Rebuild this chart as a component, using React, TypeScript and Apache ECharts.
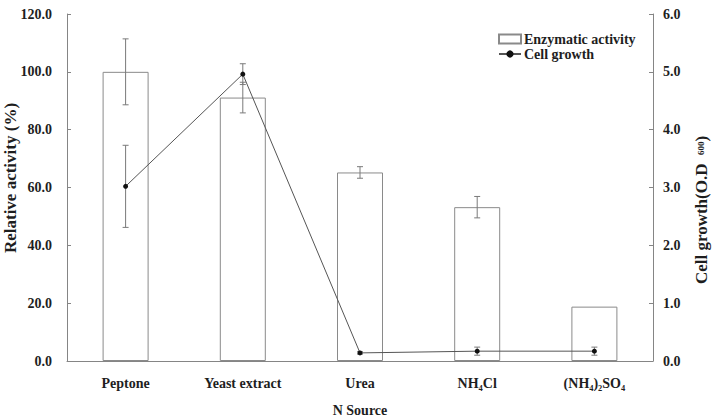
import React, { useEffect, useRef } from "react";
import * as echarts from "echarts";

const categories = ["Peptone", "Yeast extract", "Urea", "NH₄Cl", "(NH₄)₂SO₄"];
const activity = [100.0, 91.1, 65.2, 53.2, 18.8];
const activityErr = [11.4, 5.3, 2.0, 3.7, 0];
const growth = [3.02, 4.96, 0.14, 0.17, 0.17];
const growthErr = [0.71, 0.18, 0.02, 0.07, 0.07];
const leftTicks = [0, 20, 40, 60, 80, 100, 120];
const rightTicks = [0, 1, 2, 3, 4, 5, 6];

const FONT = "'Liberation Serif', 'Times New Roman', serif";
const AXIS_COLOR = "#858585";
const TEXT_COLOR = "#1e1e1e";

function errRender(color: string) {
  return (params: any, api: any) => {
    const x = api.value(0);
    if (api.value(1) === api.value(2)) return null;
    const lo = api.coord([x, api.value(1)]);
    const hi = api.coord([x, api.value(2)]);
    const w = 3;
    const style = { stroke: color, lineWidth: 1 };
    return {
      type: "group",
      children: [
        { type: "line", shape: { x1: lo[0], y1: lo[1], x2: hi[0], y2: hi[1] }, style },
        { type: "line", shape: { x1: lo[0] - w, y1: lo[1], x2: lo[0] + w, y2: lo[1] }, style },
        { type: "line", shape: { x1: hi[0] - w, y1: hi[1], x2: hi[0] + w, y2: hi[1] }, style },
      ],
    };
  };
}

export default function App() {
  const ref = useRef<HTMLDivElement>(null);
  useEffect(() => {
    if (!ref.current) return;
    const chart = echarts.init(ref.current, null, { renderer: "svg" });
    const actErrData = categories.map((_, i) => [i, activity[i] - activityErr[i], activity[i] + activityErr[i]]);
    const growthErrData = categories.map((_, i) => [i, growth[i] - growthErr[i], growth[i] + growthErr[i]]);
    chart.setOption({
      animation: false,
      backgroundColor: "#ffffff",
      textStyle: { fontFamily: FONT },
      grid: { left: 67, right: 59, top: 14, bottom: 55, containLabel: false, outerBoundsMode: "none" },
      legend: {
        orient: "vertical",
        left: 493,
        top: 27,
        itemWidth: 22,
        itemHeight: 9,
        itemGap: 1,
        textStyle: {
          fontFamily: FONT, fontSize: 14, fontWeight: "bold", color: TEXT_COLOR,
          lineHeight: 13, padding: [0, 0, 0, -2],
        },
        data: [
          { name: "Enzymatic activity", icon: "rect" },
          { name: "Cell growth" },
        ],
      },
      xAxis: {
        type: "category",
        data: categories,
        boundaryGap: true,
        name: "N Source",
        nameLocation: "middle",
        nameGap: 42,
        nameTextStyle: { fontFamily: FONT, fontSize: 14, fontWeight: "bold", color: TEXT_COLOR },
        axisLine: { lineStyle: { color: AXIS_COLOR, width: 1 } },
        axisTick: { inside: true, length: 4, lineStyle: { color: AXIS_COLOR } },
        axisLabel: { fontFamily: FONT, fontSize: 14, fontWeight: "bold", color: TEXT_COLOR, margin: 15 },
        splitLine: { show: false },
      },
      yAxis: [
        {
          type: "value",
          min: leftTicks[0],
          max: leftTicks[leftTicks.length - 1],
          interval: 20,
          axisLine: { show: true, lineStyle: { color: AXIS_COLOR, width: 1 } },
          axisTick: { show: true, inside: true, length: 4, lineStyle: { color: AXIS_COLOR } },
          axisLabel: {
            fontFamily: FONT, fontSize: 14, fontWeight: "bold", color: TEXT_COLOR, margin: 15,
            formatter: (v: number) => v.toFixed(1),
          },
          splitLine: { show: false },
        },
        {
          type: "value",
          min: rightTicks[0],
          max: rightTicks[rightTicks.length - 1],
          interval: 1,
          position: "right",
          axisLine: { show: true, lineStyle: { color: AXIS_COLOR, width: 1 } },
          axisTick: { show: true, inside: true, length: 4, lineStyle: { color: AXIS_COLOR } },
          axisLabel: {
            fontFamily: FONT, fontSize: 14, fontWeight: "bold", color: TEXT_COLOR, margin: 10,
            formatter: (v: number) => v.toFixed(1),
          },
          splitLine: { show: false },
        },
      ],
      graphic: [
        {
          type: "text",
          x: 10,
          y: 178,
          rotation: Math.PI / 2,
          style: {
            text: "Relative activity (%)",
            fontFamily: FONT, fontSize: 17, fontWeight: "bold", fill: TEXT_COLOR,
            align: "center", verticalAlign: "middle",
          },
        },
        {
          type: "text",
          x: 701,
          y: 210,
          rotation: Math.PI / 2,
          style: {
            text: "Cell growth(O.D  {s|600})",
            fontFamily: FONT, fontSize: 17, fontWeight: "bold", fill: TEXT_COLOR,
            align: "center", verticalAlign: "middle",
            rich: { s: { fontFamily: FONT, fontSize: 9, fontWeight: "bold", fill: TEXT_COLOR } },
          },
        },
      ],
      series: [
        {
          name: "Enzymatic activity",
          type: "bar",
          data: activity,
          yAxisIndex: 0,
          barWidth: 46,
          itemStyle: { color: "#ffffff", borderColor: "#8a8a8a", borderWidth: 1 },
          z: 2,
        },
        {
          name: "Activity error",
          type: "custom",
          yAxisIndex: 0,
          data: actErrData,
          encode: { x: 0, y: [1, 2] },
          renderItem: errRender("#7a7a7a"),
          z: 3,
        },
        {
          name: "Cell growth",
          type: "line",
          data: growth,
          yAxisIndex: 1,
          symbol: "circle",
          symbolSize: 5,
          lineStyle: { color: "#555555", width: 1 },
          itemStyle: { color: "#111111" },
          z: 5,
        },
        {
          name: "Growth error",
          type: "custom",
          yAxisIndex: 1,
          data: growthErrData,
          encode: { x: 0, y: [1, 2] },
          renderItem: errRender("#7a7a7a"),
          z: 4,
        },
      ],
    });
    return () => chart.dispose();
  }, []);
  return <div ref={ref} style={{ width: 712, height: 416, position: "absolute", left: 0, top: 0 }} />;
}
